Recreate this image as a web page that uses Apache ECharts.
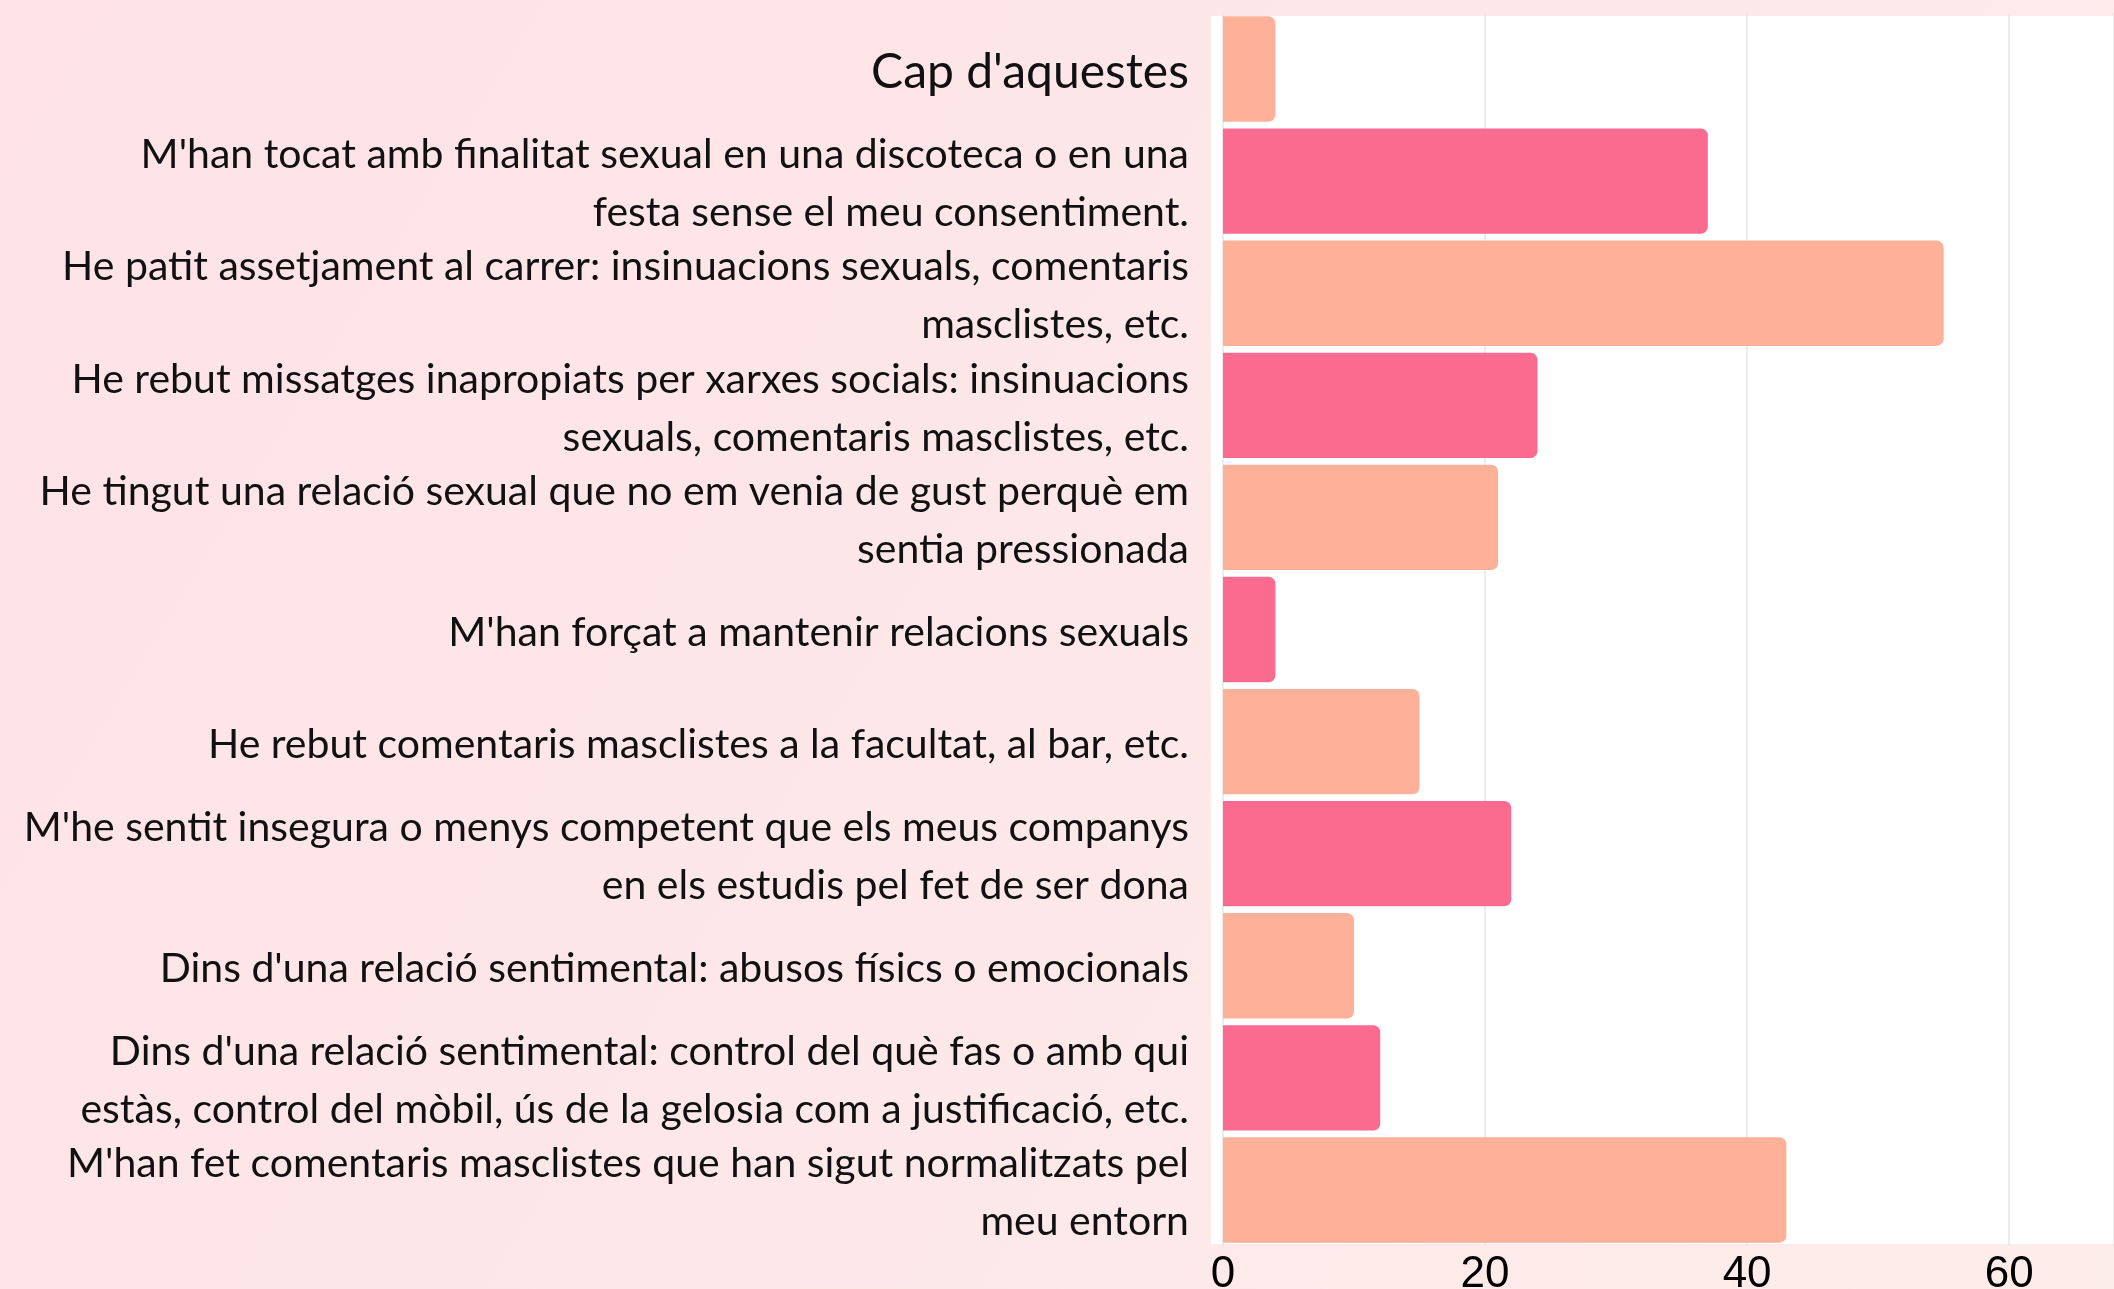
<!DOCTYPE html>
<html>
<head>
<meta charset="utf-8">
<script src="https://cdn.jsdelivr.net/npm/echarts@6/dist/echarts.min.js"></script>
<style>
html,body{margin:0;padding:0;}
#chart{width:2114px;height:1289px;}
</style>
</head>
<body>
<div id="chart"></div>
<script>
const categories = [
  "Cap d'aquestes",
  "M'han tocat amb finalitat sexual en una discoteca o en una\nfesta sense el meu consentiment.",
  "He patit assetjament al carrer: insinuacions sexuals, comentaris\nmasclistes, etc.",
  "He rebut missatges inapropiats per xarxes socials: insinuacions\nsexuals, comentaris masclistes, etc.",
  "He tingut una relació sexual que no em venia de gust perquè em\nsentia pressionada",
  "M'han forçat a mantenir relacions sexuals",
  "He rebut comentaris masclistes a la facultat, al bar, etc.",
  "M'he sentit insegura o menys competent que els meus companys\nen els estudis pel fet de ser dona",
  "Dins d'una relació sentimental: abusos físics o emocionals",
  "Dins d'una relació sentimental: control del què fas o amb qui\nestàs, control del mòbil, ús de la gelosia com a justificació, etc.",
  "M'han fet comentaris masclistes que han sigut normalitzats pel\nmeu entorn"
];
const values = [4, 37, 55, 24, 21, 4, 15, 22, 10, 12, 43];
const tickMin = 0, tickMax = 68, tickStep = 20;

const colorA = '#FEB198';
const colorB = '#FA6B8F';
const LABEL_FONT = 'Lato, "Noto Sans", sans-serif';

const chart = echarts.init(document.getElementById('chart'));
chart.setOption({
  backgroundColor: new echarts.graphic.LinearGradient(0, 0, 1, 1, [
    {offset: 0, color: '#FEE2E7'},
    {offset: 1, color: '#FDEDEA'}
  ]),
  animation: false,
  graphic: [{
    type: 'rect', z: -10, left: 1211, top: 16,
    shape: {width: 903, height: 1228},
    style: {fill: '#ffffff'}, silent: true
  }],
  grid: {left: 1223, right: 0, top: 13, bottom: 43, containLabel: false, outerBoundsMode: 'none'},
  xAxis: {
    type: 'value', min: tickMin, max: tickMax, interval: tickStep,
    axisLine: {show: false}, axisTick: {show: false},
    splitLine: {show: true, lineStyle: {color: '#e6e6e6', width: 1.5}},
    axisLabel: {
      color: '#000', fontFamily: '"Liberation Sans", Arial, sans-serif',
      fontSize: 44, margin: 7,
      showMaxLabel: false
    }
  },
  yAxis: {
    type: 'category', data: categories, inverse: true,
    axisLine: {show: false}, axisTick: {show: false}, splitLine: {show: false},
    axisLabel: {
      interval: 0, hideOverlap: false,
      margin: 34, color: '#111', fontFamily: LABEL_FONT, fontSize: 41, lineHeight: 58,
      align: 'right', padding: [6, 0, 0, 0],
      formatter: function (v, i) { return i === 0 ? '{big|' + v + '}' : v; },
      rich: {big: {fontSize: 48, fontFamily: LABEL_FONT, color: '#111'}}
    }
  },
  series: [{
    type: 'bar', data: values, barCategoryGap: '6%',
    itemStyle: {
      borderRadius: [0, 7, 7, 0],
      color: function (p) { return p.dataIndex % 2 === 0 ? colorA : colorB; }
    }
  }]
});
</script>
</body>
</html>
